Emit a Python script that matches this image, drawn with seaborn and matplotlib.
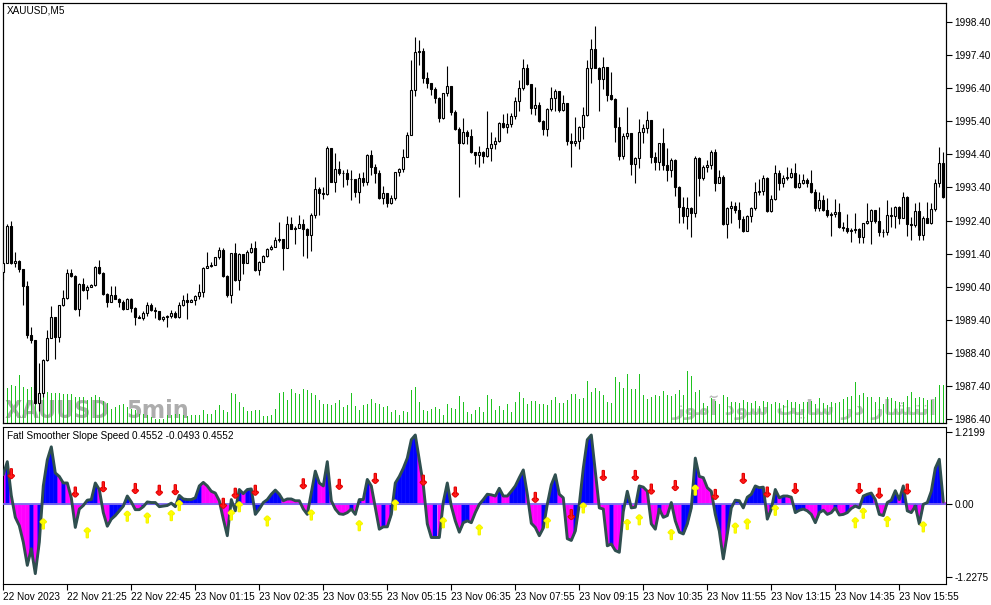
import numpy as np
import matplotlib
matplotlib.use("Agg")
import matplotlib.pyplot as plt
import matplotlib.patheffects as pe
import seaborn as sns

sns.set_theme(style="white")
plt.rcParams["font.family"] = ["Liberation Sans", "DejaVu Sans"]

# ---------------- data ----------------
first_open = 1990.85

close = [
    1991.11, 1992.24, 1991.11, 1991.19, 1990.93, 1990.42, 1988.94, 1988.79, 1986.88, 1987.18,
    1988.18, 1988.84, 1989.50, 1988.89, 1989.84, 1990.05, 1990.81, 1990.73, 1989.73, 1990.47,
    1990.30, 1990.40, 1990.45, 1991.00, 1990.82, 1990.18, 1989.93, 1990.15, 1990.04, 1989.93,
    1989.73, 1990.02, 1989.75, 1989.50, 1989.47, 1989.60, 1989.85, 1989.71, 1989.67, 1989.42,
    1989.50, 1989.52, 1989.60, 1989.50, 1989.84, 1990.00, 1989.95, 1990.00, 1990.12, 1990.24,
    1990.97, 1991.04, 1991.06, 1991.29, 1991.51, 1990.72, 1990.15, 1991.41, 1990.60, 1991.39,
    1991.13, 1991.46, 1991.56, 1990.91, 1991.15, 1991.33, 1991.53, 1991.61, 1991.81, 1991.83,
    1991.56, 1992.30, 1992.16, 1992.19, 1992.30, 1992.16, 1991.96, 1992.57, 1993.36, 1993.23,
    1993.20, 1994.59, 1993.58, 1993.95, 1993.85, 1993.83, 1993.65, 1993.65, 1993.27, 1993.68,
    1993.58, 1994.38, 1994.03, 1993.83, 1993.09, 1993.22, 1992.94, 1993.07, 1993.86, 1993.95,
    1994.31, 1994.99, 1996.35, 1997.48, 1997.52, 1996.72, 1996.55, 1996.37, 1996.09, 1995.49,
    1996.24, 1996.47, 1995.69, 1995.16, 1994.73, 1995.07, 1994.96, 1994.46, 1994.39, 1994.47,
    1994.35, 1994.58, 1994.70, 1994.80, 1995.34, 1995.24, 1995.31, 1995.56, 1996.01, 1996.40,
    1997.00, 1996.52, 1995.81, 1995.89, 1995.42, 1995.16, 1995.76, 1996.09, 1996.33, 1995.74,
    1995.94, 1994.81, 1994.73, 1994.81, 1995.22, 1995.59, 1997.00, 1997.57, 1997.02, 1996.67,
    1997.03, 1996.19, 1996.06, 1995.24, 1994.36, 1994.97, 1995.04, 1994.10, 1994.28, 1995.09,
    1995.19, 1995.44, 1994.33, 1994.18, 1994.73, 1994.08, 1993.93, 1994.23, 1993.41, 1992.80,
    1992.55, 1992.77, 1992.64, 1994.28, 1993.70, 1994.03, 1994.08, 1994.48, 1993.55, 1993.71,
    1992.30, 1992.77, 1992.84, 1992.72, 1992.44, 1992.10, 1992.54, 1992.77, 1993.25, 1993.30,
    1993.68, 1992.70, 1993.05, 1993.83, 1993.53, 1993.68, 1993.73, 1993.83, 1993.43, 1993.53,
    1993.63, 1993.53, 1993.25, 1992.79, 1993.02, 1992.72, 1992.57, 1992.60, 1992.65, 1992.22,
    1992.19, 1992.10, 1992.12, 1992.14, 1991.90, 1992.32, 1992.39, 1992.72, 1992.40, 1992.07,
    1992.05, 1992.57, 1992.54, 1992.82, 1992.47, 1993.12, 1992.30, 1992.27, 1992.69, 1991.95,
    1992.49, 1992.34, 1992.74, 1993.53, 1994.13, 1993.12,
]

high = [
    1991.21, 1992.30, 1992.39, 1991.46, 1991.21, 1990.93, 1990.57, 1989.19, 1988.79, 1988.09,
    1988.21, 1989.09, 1989.82, 1989.50, 1989.86, 1990.30, 1990.93, 1990.93, 1990.75, 1990.50,
    1990.68, 1990.45, 1990.47, 1991.04, 1991.20, 1990.85, 1990.22, 1990.42, 1990.42, 1990.06,
    1990.00, 1990.05, 1990.07, 1989.78, 1989.55, 1989.68, 1989.95, 1989.90, 1989.80, 1989.68,
    1989.52, 1989.55, 1989.70, 1989.68, 1989.95, 1990.15, 1990.20, 1990.04, 1990.15, 1990.49,
    1990.99, 1991.46, 1991.16, 1991.31, 1991.61, 1991.56, 1990.75, 1991.43, 1991.71, 1991.41,
    1991.36, 1991.51, 1991.73, 1991.78, 1991.17, 1991.36, 1991.56, 1991.66, 1991.89, 1992.37,
    1991.83, 1992.55, 1992.52, 1992.23, 1992.57, 1992.44, 1992.18, 1992.62, 1993.72, 1993.41,
    1993.41, 1994.65, 1994.58, 1994.43, 1994.20, 1993.93, 1993.96, 1993.93, 1993.65, 1993.83,
    1993.88, 1994.41, 1994.53, 1994.11, 1993.93, 1993.44, 1993.24, 1993.17, 1993.88, 1993.98,
    1994.56, 1995.09, 1997.25, 1997.96, 1997.86, 1997.60, 1996.88, 1996.57, 1996.45, 1996.12,
    1996.26, 1997.07, 1996.47, 1995.74, 1995.22, 1995.49, 1995.14, 1995.17, 1994.48, 1994.65,
    1994.50, 1995.71, 1995.09, 1994.93, 1995.39, 1995.62, 1995.64, 1995.64, 1996.12, 1996.65,
    1997.28, 1997.13, 1996.52, 1996.45, 1995.99, 1995.44, 1995.79, 1996.43, 1996.37, 1996.33,
    1996.19, 1995.86, 1995.04, 1995.52, 1995.26, 1995.82, 1997.25, 1997.89, 1998.28, 1997.05,
    1997.33, 1997.02, 1996.90, 1996.11, 1995.54, 1995.06, 1995.82, 1995.04, 1994.33, 1995.47,
    1995.32, 1995.71, 1995.44, 1994.48, 1994.75, 1995.19, 1994.58, 1994.28, 1994.25, 1993.45,
    1993.12, 1993.10, 1992.82, 1994.35, 1994.33, 1994.08, 1994.23, 1994.53, 1994.55, 1993.93,
    1993.78, 1992.80, 1993.00, 1992.97, 1992.97, 1992.54, 1992.57, 1992.82, 1993.58, 1993.65,
    1993.78, 1993.73, 1993.17, 1994.08, 1993.93, 1993.78, 1994.01, 1993.98, 1994.13, 1993.81,
    1993.81, 1993.68, 1993.93, 1993.35, 1993.27, 1993.17, 1993.07, 1992.67, 1993.05, 1992.94,
    1992.37, 1992.60, 1992.17, 1992.64, 1992.17, 1992.34, 1992.94, 1992.74, 1992.67, 1992.82,
    1992.14, 1993.02, 1992.82, 1992.84, 1992.84, 1993.27, 1993.14, 1992.52, 1992.92, 1992.97,
    1992.54, 1992.97, 1992.92, 1993.65, 1994.63, 1994.48,
]

low = [
    1990.60, 1991.11, 1991.09, 1991.01, 1990.86, 1989.85, 1988.84, 1988.69, 1986.86, 1986.66,
    1987.08, 1988.17, 1988.84, 1988.21, 1988.74, 1989.82, 1990.04, 1990.70, 1989.70, 1989.53,
    1990.28, 1990.04, 1990.38, 1990.42, 1990.80, 1990.16, 1989.78, 1989.93, 1990.02, 1989.80,
    1989.70, 1989.75, 1989.65, 1989.24, 1989.45, 1989.40, 1989.52, 1989.68, 1989.45, 1989.40,
    1989.37, 1989.19, 1989.45, 1989.47, 1989.47, 1989.82, 1989.42, 1989.95, 1989.85, 1990.02,
    1990.08, 1990.96, 1991.01, 1991.06, 1991.23, 1990.70, 1990.08, 1989.90, 1990.58, 1990.30,
    1990.80, 1991.13, 1991.43, 1990.89, 1990.75, 1991.19, 1991.29, 1991.51, 1991.61, 1991.76,
    1990.91, 1991.56, 1992.14, 1991.68, 1992.17, 1991.34, 1991.26, 1991.48, 1992.48, 1992.57,
    1993.05, 1993.17, 1993.56, 1993.27, 1993.78, 1993.42, 1993.47, 1993.02, 1993.10, 1992.92,
    1993.46, 1993.47, 1993.78, 1993.53, 1993.05, 1992.90, 1992.80, 1992.90, 1993.02, 1993.75,
    1993.88, 1994.38, 1994.99, 1996.16, 1997.10, 1996.57, 1996.42, 1996.19, 1995.96, 1995.39,
    1995.47, 1996.16, 1995.59, 1995.14, 1993.12, 1994.70, 1994.71, 1994.43, 1994.11, 1994.03,
    1994.15, 1994.31, 1994.21, 1994.55, 1994.76, 1995.19, 1995.06, 1995.24, 1995.47, 1995.72,
    1996.34, 1996.49, 1995.61, 1995.59, 1995.39, 1994.99, 1994.96, 1995.72, 1995.72, 1995.69,
    1995.72, 1994.68, 1994.03, 1994.65, 1994.55, 1994.86, 1995.56, 1996.57, 1997.00, 1995.72,
    1996.37, 1996.02, 1996.04, 1994.78, 1994.23, 1994.25, 1994.88, 1993.78, 1993.53, 1993.98,
    1994.75, 1995.04, 1994.13, 1993.93, 1993.93, 1993.93, 1993.60, 1993.73, 1993.14, 1992.34,
    1992.32, 1992.15, 1991.89, 1992.52, 1993.14, 1993.63, 1993.88, 1993.95, 1993.30, 1993.58,
    1992.27, 1991.87, 1992.32, 1992.64, 1992.17, 1992.07, 1992.10, 1992.37, 1992.72, 1993.17,
    1993.17, 1992.67, 1992.67, 1993.02, 1993.32, 1993.43, 1993.63, 1993.68, 1993.38, 1993.38,
    1993.51, 1993.43, 1993.23, 1992.70, 1992.70, 1992.70, 1992.52, 1991.92, 1992.50, 1992.17,
    1992.10, 1992.02, 1991.76, 1992.02, 1991.71, 1991.73, 1992.30, 1991.68, 1992.32, 1991.92,
    1991.90, 1991.97, 1992.22, 1992.17, 1992.30, 1992.47, 1991.92, 1991.80, 1992.22, 1991.80,
    1991.81, 1992.32, 1992.30, 1992.70, 1993.43, 1993.07,
]

# tick volume per bar
volume = [
    300, 350, 380, 370, 480, 360, 340, 360, 300, 260,
    360, 310, 300, 300, 300, 290, 290, 290, 260, 260,
    260, 230, 260, 280, 260, 220, 200, 140, 160, 180,
    190, 160, 140, 130, 90, 90, 80, 60, 40, 40,
    40, 80, 80, 90, 90, 80, 70, 80, 80, 80,
    130, 90, 90, 130, 180, 130, 110, 300, 290, 210,
    160, 120, 120, 130, 130, 70, 70, 80, 140, 300,
    310, 230, 340, 300, 290, 340, 330, 300, 280, 230,
    190, 190, 180, 200, 230, 160, 180, 300, 170, 130,
    180, 190, 240, 200, 190, 160, 170, 110, 130, 80,
    120, 110, 330, 360, 210, 130, 120, 140, 160, 140,
    80, 190, 150, 140, 270, 210, 110, 90, 130, 160,
    110, 280, 240, 130, 170, 130, 190, 110, 210, 310,
    250, 190, 220, 220, 190, 190, 180, 230, 260, 200,
    200, 230, 290, 290, 240, 250, 420, 310, 350, 320,
    280, 210, 200, 460, 410, 350, 490, 340, 340, 490,
    280, 240, 260, 280, 270, 320, 280, 270, 290, 330,
    280, 520, 470, 310, 330, 200, 170, 250, 220, 190,
    280, 260, 210, 210, 200, 230, 210, 200, 220, 170,
    220, 210, 190, 210, 200, 180, 230, 210, 210, 190,
    210, 210, 220, 190, 250, 200, 180, 210, 200, 210,
    240, 260, 270, 410, 280, 300, 260, 260, 210, 260,
    190, 260, 250, 220, 210, 210, 270, 310, 250, 260,
    250, 230, 230, 260, 380, 380,
]

# Fatl Smoother Slope Speed histogram
speed = [
    0.50, 0.72, 0.15, -0.22, -0.36, -0.64, -1.03, -0.75, -1.17, -0.64,
    0.31, 0.75, 0.97, 0.53, 0.47, 0.36, 0.36, 0.11, -0.39, -0.08,
    -0.02, 0.07, 0.08, 0.36, 0.25, -0.14, -0.37, -0.25, -0.19, -0.11,
    -0.03, 0.14, 0.04, -0.09, -0.09, -0.04, 0.04, 0.03, 0.03, -0.04,
    -0.03, -0.02, 0.02, -0.04, 0.15, 0.09, 0.08, 0.08, 0.11, 0.31,
    0.37, 0.31, 0.22, 0.19, 0.06, -0.25, -0.53, 0.08, -0.11, 0.25,
    0.18, 0.25, 0.26, -0.17, -0.08, 0.03, 0.08, 0.17, 0.24, 0.17,
    0.06, 0.09, 0.09, 0.06, 0.06, -0.08, -0.17, 0.19, 0.56, 0.36,
    0.31, 0.72, 0.06, -0.08, -0.16, -0.17, -0.14, -0.08, -0.17, 0.08,
    0.08, 0.42, 0.31, -0.06, -0.42, -0.38, -0.38, -0.17, 0.36, 0.47,
    0.61, 0.78, 1.09, 1.17, 0.75, 0.33, -0.33, -0.56, -0.56, -0.56,
    0.04, 0.36, -0.03, -0.28, -0.47, -0.31, -0.28, -0.31, -0.14, 0.00,
    0.08, 0.17, 0.16, 0.14, 0.27, 0.14, 0.14, 0.22, 0.31, 0.45,
    0.58, 0.17, -0.32, -0.39, -0.53, -0.40, 0.00, 0.33, 0.50, 0.17,
    0.11, -0.58, -0.61, -0.45, 0.00, 0.61, 1.09, 1.17, 0.56, -0.06,
    -0.08, -0.70, -0.67, -0.78, -0.81, -0.12, 0.22, -0.06, -0.05, 0.31,
    0.29, 0.22, -0.33, -0.42, -0.08, -0.22, -0.19, 0.03, -0.28, -0.47,
    -0.50, -0.33, -0.06, 0.78, 0.47, 0.45, 0.28, 0.22, -0.17, -0.45,
    -0.92, -0.50, -0.06, 0.07, 0.06, -0.06, 0.12, 0.17, 0.31, 0.28,
    0.29, -0.25, -0.08, 0.25, 0.11, 0.14, 0.14, 0.12, -0.14, -0.10,
    -0.08, -0.11, -0.17, -0.31, -0.14, -0.10, -0.17, -0.14, -0.06, -0.18,
    -0.17, -0.14, -0.07, -0.03, -0.06, 0.14, 0.17, 0.19, 0.08, -0.17,
    -0.19, 0.03, 0.07, 0.23, 0.08, 0.31, -0.11, -0.14, -0.03, -0.33,
    0.00, 0.03, 0.22, 0.61, 0.76, 0.04,
]

# b = blue bar, m = magenta bar
speed_color = (
    "mbmmmmmbmb" "bbbbmbmmmm" "mbbbmmmbbb" "bbmmmbbbbm" "mmbmbbbbbb"
    "mmmmmmmbbb" "mbbbbbbbbb" "mmmmmmmbbm" "mbmmmmmbmb" "mbmmmbmbbb"
    "bbbbmmmmbm" "bbmmmbbmmb" "bbmmbmmbbb" "bmmmmbbbbm" "mmmbbbbbmm"
    "mmbmmbbmmb" "mmmmbmmbmm" "bbbbmmmmbb" "mbbbbmbbbb" "bmbbmbmmbb"
    "bmmmbmmmbm" "mbmbmbbbmm" "mbbbmbmmbm" "bbbbbm"
)

# signal arrows: (bar number, level)
down_bars = [3, 19, 26, 34, 40, 44, 56, 59, 64, 76, 85, 94, 106, 114, 134, 143,
             151, 159, 163, 169, 179, 186, 192, 199, 215, 220, 227]
down_levels = [0.50, 0.19, 0.28, 0.25, 0.22, 0.23, 0.00, 0.17, 0.22, 0.33, 0.32, 0.42,
               0.39, 0.19, 0.10, -0.19, 0.47, 0.47, 0.24, 0.30, 0.15, 0.42, 0.19,
               0.25, 0.25, 0.17, 0.24]
up_bars = [11, 22, 32, 37, 43, 45, 58, 60, 67, 78, 90, 99, 111, 120, 137, 146,
           157, 160, 168, 174, 184, 187, 194, 214, 216, 222, 231]
up_levels = [-0.35, -0.50, -0.22, -0.25, -0.21, -0.04, -0.20, -0.06, -0.30, -0.20,
             -0.38, -0.03, -0.33, -0.45, -0.33, -0.08, -0.36, -0.28, -0.53, 0.22,
             -0.42, -0.35, -0.12, -0.33, -0.17, -0.31, -0.40]

price_ticks = [1998.40, 1997.40, 1996.40, 1995.40, 1994.40, 1993.40, 1992.40,
               1991.40, 1990.40, 1989.40, 1988.40, 1987.40, 1986.40]
speed_ticks = [1.2199, 0.0, -1.2275]
speed_tick_labels = ["1.2199", "0.00", "-1.2275"]

time_bars = [1, 17, 33, 49, 65, 81, 97, 113, 129, 145, 161, 177, 193, 209, 225]
time_labels = ["22 Nov 2023", "22 Nov 21:25", "22 Nov 22:45", "23 Nov 01:15",
               "23 Nov 02:35", "23 Nov 03:55", "23 Nov 05:15", "23 Nov 06:35",
               "23 Nov 07:55", "23 Nov 09:15", "23 Nov 10:35", "23 Nov 11:55",
               "23 Nov 13:15", "23 Nov 14:35", "23 Nov 15:55"]

n = len(close)
assert len(high) == n and len(low) == n and len(volume) == n
assert len(speed) == n and len(speed_color) == n

# ---------------- figure ----------------
fig = plt.figure(figsize=(9.91, 6.05), dpi=100)
fig.patch.set_facecolor("white")
W, H = 991, 605
ax = fig.add_axes([3 / W, 182 / H, 943 / W, 420 / H])
ax2 = fig.add_axes([3 / W, 21 / H, 943 / W, 157 / H])

x = np.arange(n)
c = np.array(close)
o = np.r_[first_open, c[:-1]]
hi = np.maximum(np.array(high), np.maximum(o, c))
lo = np.minimum(np.array(low), np.minimum(o, c))
bull = c >= o
body_lo = np.minimum(o, c)
body_h = np.maximum(np.abs(c - o), 0.012)

# volume on a twin axis, behind the candles
axv = ax.twinx()
axv.set_zorder(ax.get_zorder() - 1)
ax.patch.set_visible(False)
axv.vlines(x, 0, volume, color="#1fc21f", lw=0.6, zorder=2, antialiased=False)
axv.set_ylim(0, 4200)
axv.set_yticks([])
axv.tick_params(right=False, labelright=False)

# watermarks
wm = dict(fontsize=18, fontweight="bold", fontstretch="condensed", color="#adadad",
          ha="left", va="baseline", zorder=1, family="DejaVu Sans")
axv.text(0.002, 0.012, "XAUUSD", transform=axv.transAxes, **wm)
axv.text(0.131, 0.012, "5min", transform=axv.transAxes, **wm)
persian = ("\uFEAF\uFEEE\uFEE3\uFE81 \uFEA9\uFEEE\uFEB3 \uFE96\uFEF3\uFE8E\uFEB3 "
           "\uFEAD\uFEA9 \uFEAD\uFE8E\uFEB8\uFE98\uFEE7\uFE8D")
axv.text(0.990, 0.018, persian, transform=axv.transAxes, fontsize=15,
         fontweight="bold", color="#bcbcbc", ha="right", va="baseline", zorder=1,
         family="DejaVu Sans")

# candles
ax.vlines(x, lo, hi, color="black", lw=0.8, zorder=2)
ax.bar(x[bull], body_h[bull], bottom=body_lo[bull], width=0.5,
       facecolor="white", edgecolor="black", linewidth=0.8, zorder=3)
ax.bar(x[~bull], body_h[~bull], bottom=body_lo[~bull], width=0.5,
       facecolor="black", edgecolor="black", linewidth=0.8, zorder=3)

ax.set_xlim(-0.075, 235.675)
ax.set_ylim(1986.285, 1998.974)
ax.yaxis.tick_right()
ax.set_yticks(price_ticks)
ax.set_yticklabels([f"{t:.2f}" for t in price_ticks])
ax.set_xticks([])
ax.tick_params(axis="y", direction="out", length=4, width=0.8, pad=2,
               labelsize=7.2, colors="black", right=True, left=False)
ax.text(0.0045, 0.993, "XAUUSD,M5", transform=ax.transAxes, fontsize=7.2,
        ha="left", va="top", color="black")

# indicator histogram
v = np.array(speed)
mid = np.r_[v[0], (v[:-1] + v[1:]) / 2, v[-1]]
palette = {"b": "#0000ff", "m": "#ff00ff"}
for i in range(n):
    col = palette[speed_color[i]]
    ax2.fill_between([i - 0.5, i, i + 0.5], [mid[i], v[i], mid[i + 1]], 0,
                     color=col, lw=0.3, edgecolor=col, zorder=2)
ax2.axhline(0, color="#7b68ee", lw=1.3, zorder=3)
sns.lineplot(x=x, y=v, ax=ax2, color="#2f4f4f", lw=2.1, legend=False, zorder=4)

# signal arrows drawn as thickened arrow glyphs
for b, lvl in zip(down_bars, down_levels):
    ax2.text(b - 1, lvl, "\u2193", color="#ff1a1a", fontsize=9, fontweight="bold",
             family="DejaVu Sans", ha="center", va="center", zorder=5,
             path_effects=[pe.withStroke(linewidth=1.4, foreground="#e00000")])
for b, lvl in zip(up_bars, up_levels):
    ax2.text(b - 1, lvl, "\u2191", color="#ffff00", fontsize=9, fontweight="bold",
             family="DejaVu Sans", ha="center", va="center", zorder=5,
             path_effects=[pe.withStroke(linewidth=1.4, foreground="#f4f400")])

ax2.set_xlim(-0.075, 235.675)
ax2.set_ylim(-1.345, 1.305)
ax2.yaxis.tick_right()
ax2.set_yticks(speed_ticks)
ax2.set_yticklabels(speed_tick_labels)
ax2.set_xticks([b - 1 for b in time_bars])
ax2.set_xticklabels(time_labels, ha="left")
ax2.set_xlabel("")
ax2.set_ylabel("")
ax2.tick_params(axis="y", direction="out", length=4, width=0.8, pad=2,
                labelsize=7.2, colors="black", right=True, left=False)
ax2.tick_params(axis="x", direction="out", length=4, width=0.8, pad=1.5,
                labelsize=7.2, colors="black", bottom=True)
ax2.text(0.0045, 0.975, "Fatl Smoother Slope Speed 0.4552 -0.0493 0.4552",
         transform=ax2.transAxes, fontsize=7.2, ha="left", va="top", color="black")

for a in (ax, ax2, axv):
    for s in a.spines.values():
        s.set_color("black")
        s.set_linewidth(0.8)

fig.savefig("out.png", dpi=100, facecolor="white")
